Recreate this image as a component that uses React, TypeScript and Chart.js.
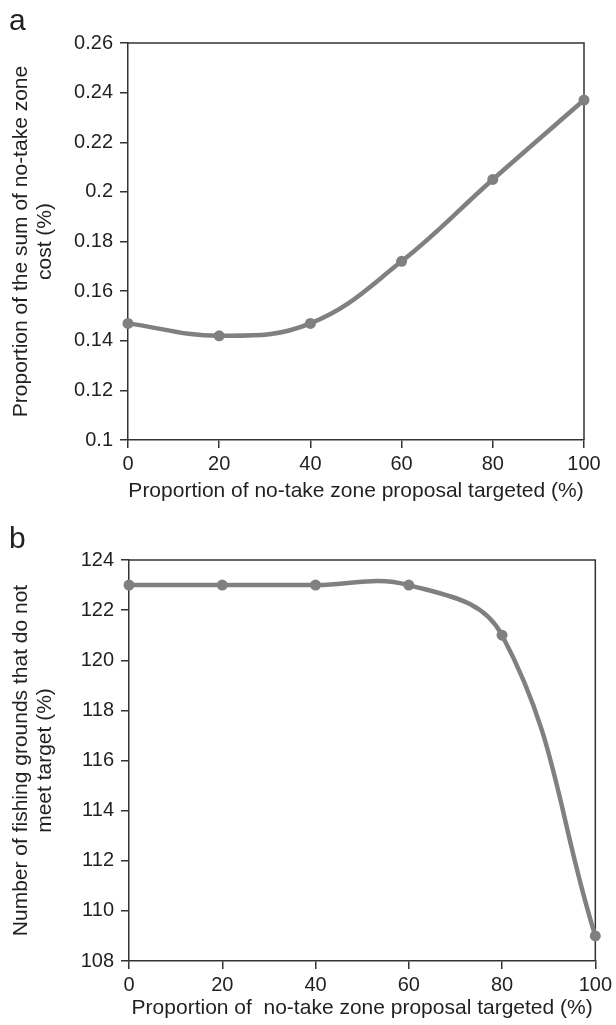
import React, { useEffect, useRef } from "react";
import { Chart, registerables } from "chart.js";

Chart.register(...registerables);

// ---- data ----
const xValues = [0, 20, 40, 60, 80, 100];
const costValues = [0.147, 0.142, 0.147, 0.172, 0.205, 0.237];
const groundsValues = [123, 123, 123, 123, 121, 109];

const costAxis = { min: 0.1, max: 0.26, step: 0.02 };
const groundsAxis = { min: 108, max: 124, step: 2 };
const xAxisRange = { min: 0, max: 100, step: 20 };

const titleA_x = "Proportion of no-take zone proposal targeted (%)";
const titleA_y = ["Proportion of the sum of no-take zone", "cost (%)"];
const titleB_x = "Proportion of  no-take zone proposal targeted (%)";
const titleB_y = ["Number of fishing grounds that do not", "meet target (%)"];

const FONT = "'Liberation Sans', Arial, Helvetica, sans-serif";
const TEXT = "#231f20";
const AXIS = "#333333";
const LINE = "#808080";

const framePlugin = {
  id: "frame",
  beforeDatasetsDraw(chart: any) {
    const { ctx, chartArea: a } = chart;
    ctx.save();
    ctx.strokeStyle = AXIS;
    ctx.lineWidth = 1.5;
    ctx.beginPath();
    ctx.moveTo(a.left, a.top);
    ctx.lineTo(a.right, a.top);
    ctx.lineTo(a.right, a.bottom);
    ctx.stroke();
    ctx.restore();
  },
};

type Cfg = {
  values: number[];
  yRange: { min: number; max: number; step: number };
  xTitle: string;
  yTitle: string[];
  width: number;
  height: number;
  padTop: number;
  padRight: number;
  yWidth: number;
  xHeight: number;
  xTitlePadBottom: number;
};

function LineChart(props: Cfg) {
  const ref = useRef<HTMLCanvasElement>(null);
  useEffect(() => {
    if (!ref.current) return;
    const data = xValues.map((x, i) => ({ x, y: props.values[i] }));
    const tickFont = { family: FONT, size: 20 };
    const titleFont = { family: FONT, size: 21, lineHeight: 1.15 };
    const chart = new Chart(ref.current, {
      type: "line",
      data: {
        datasets: [
          {
            data,
            borderColor: LINE,
            backgroundColor: LINE,
            borderWidth: 4.5,
            pointRadius: 5.5,
            pointBackgroundColor: LINE,
            pointBorderColor: LINE,
            pointBorderWidth: 0,
            tension: 0.4,
            clip: false as any,
          },
        ],
      },
      options: {
        animation: false,
        responsive: false,
        layout: { padding: { top: props.padTop, right: props.padRight, left: 0, bottom: 0 } },
        plugins: { legend: { display: false }, tooltip: { enabled: false } },
        scales: {
          x: {
            type: "linear",
            min: xAxisRange.min,
            max: xAxisRange.max,
            afterFit: (s: any) => {
              s.height = props.xHeight;
            },
            ticks: { stepSize: xAxisRange.step, color: TEXT, font: tickFont, padding: 4, maxRotation: 0 },
            grid: { drawOnChartArea: false, drawTicks: true, tickLength: 8, color: AXIS, lineWidth: 1.5 },
            border: { display: true, color: AXIS, width: 1.5 },
            title: {
              display: true,
              text: props.xTitle,
              color: TEXT,
              font: titleFont,
              padding: { top: 0, bottom: props.xTitlePadBottom },
            },
          },
          y: {
            type: "linear",
            min: props.yRange.min,
            max: props.yRange.max,
            afterFit: (s: any) => {
              s.width = props.yWidth;
            },
            ticks: {
              stepSize: props.yRange.step,
              color: TEXT,
              font: tickFont,
              padding: 7,
              callback: (v: any) => String(Number(Number(v).toFixed(2))),
            },
            grid: { drawOnChartArea: false, drawTicks: true, tickLength: 8, color: AXIS, lineWidth: 1.5 },
            border: { display: true, color: AXIS, width: 1.5 },
            title: {
              display: true,
              text: props.yTitle,
              color: TEXT,
              font: titleFont,
              padding: { top: 9, bottom: 0 },
            },
          },
        },
      },
      plugins: [framePlugin],
    });
    return () => chart.destroy();
  }, []);
  return <canvas ref={ref} width={props.width} height={props.height} style={{ display: "block" }} />;
}

const letterStyle: React.CSSProperties = {
  position: "absolute",
  left: 9,
  fontFamily: FONT,
  fontSize: 30,
  color: TEXT,
  lineHeight: "normal",
};

export default function App() {
  return (
    <div style={{ position: "absolute", left: 0, top: 0, width: 616, height: 1025, background: "#fff" }}>
      <div style={{ position: "absolute", left: 0, top: 0 }}>
        <LineChart
          values={costValues}
          yRange={costAxis}
          xTitle={titleA_x}
          yTitle={titleA_y}
          width={616}
          height={510}
          padTop={43}
          padRight={32}
          yWidth={128}
          xHeight={70}
          xTitlePadBottom={7}
        />
      </div>
      <div style={{ position: "absolute", left: 0, top: 510 }}>
        <LineChart
          values={groundsValues}
          yRange={groundsAxis}
          xTitle={titleB_x}
          yTitle={titleB_y}
          width={616}
          height={515}
          padTop={50}
          padRight={20}
          yWidth={129}
          xHeight={64}
          xTitlePadBottom={5}
        />
      </div>
      <div style={{ ...letterStyle, top: 3 }}>a</div>
      <div style={{ ...letterStyle, top: 521 }}>b</div>
    </div>
  );
}
